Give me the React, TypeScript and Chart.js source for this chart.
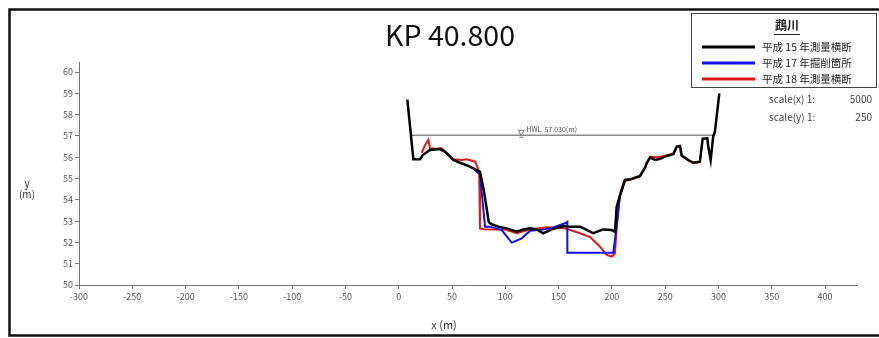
import React, { useEffect, useRef } from "react";
import { Chart, registerables } from "chart.js";

Chart.register(...registerables);

const chartTitle = "KP 40.800";
const legendTitle = "鵡川";
const seriesLabels = ["平成 15 年測量横断", "平成 17 年掘削箇所", "平成 18 年測量横断"];
const scaleLines = [["scale(x) 1:", "5000"], ["scale(y) 1:", "250"]];

const xTicks = [-300, -250, -200, -150, -100, -50, 0, 50, 100, 150, 200, 250, 300, 350, 400];
const yTicks = [50, 51, 52, 53, 54, 55, 56, 57, 58, 59, 60];

const h15X = [8.1, 13.7, 20, 22.5, 29.4, 38.7, 43.4, 51.2, 57.5, 65.3, 71.6, 76.2, 80, 84.5, 87.2, 93.4, 101.3, 110.7, 116.9, 123.2, 129.5, 135.6, 143.5, 154.4, 160.7, 170, 176, 182.5, 191.9, 199.8, 202.9, 204.5, 207.6, 212.3, 217, 226.4, 231, 232.6, 235.8, 240.5, 245.2, 251.4, 257.7, 260.8, 263.9, 265.5, 271.7, 276.4, 282.6, 285.2, 289.5, 290.5, 292.7, 295.1, 296.7, 300.8];
const h15Y = [58.7, 55.9, 55.9, 56.1, 56.34, 56.38, 56.26, 55.87, 55.74, 55.59, 55.43, 55.32, 54.4, 52.95, 52.85, 52.74, 52.66, 52.5, 52.61, 52.66, 52.61, 52.43, 52.61, 52.77, 52.74, 52.74, 52.6, 52.43, 52.61, 52.58, 52.5, 53.68, 54.2, 54.93, 54.96, 55.12, 55.5, 55.71, 55.98, 55.87, 55.92, 56.06, 56.15, 56.5, 56.53, 56.08, 55.87, 55.74, 55.79, 56.87, 56.89, 56.49, 55.87, 56.98, 57.2, 59.0];

const h17X = [69.9, 74.6, 76.2, 81, 85.6, 96.6, 106, 115.4, 123.2, 135, 145, 156, 158.2, 158.2, 201.3, 204.5, 207.6, 212.3];
const h17Y = [55.48, 55.26, 55.2, 52.74, 52.74, 52.58, 51.99, 52.19, 52.55, 52.6, 52.7, 52.9, 52.97, 51.52, 51.52, 52.74, 54.2, 54.9];

const h18X = [21.6, 24.7, 27.8, 29.4, 35, 40.3, 45, 51.2, 59.1, 63.8, 71.6, 73.7, 75.5, 76.2, 80, 92, 100, 110.7, 123.2, 138.8, 156, 170, 179.5, 187.3, 195.1, 199.8, 202.9, 204.5, 207.6, 212, 217, 226, 231, 234, 236, 243, 251, 257.7, 260.8, 263.9, 265.5, 271.7, 276.4, 282.6];
const h18Y = [56.2, 56.57, 56.81, 56.42, 56.4, 56.42, 56.2, 55.9, 55.87, 55.9, 55.79, 55.56, 55.3, 52.66, 52.62, 52.6, 52.6, 52.43, 52.61, 52.71, 52.66, 52.43, 52.25, 51.88, 51.41, 51.33, 51.49, 52.74, 54.3, 54.9, 54.93, 55.1, 55.5, 55.85, 56.02, 56.0, 56.08, 56.15, 56.45, 56.5, 56.06, 55.85, 55.72, 55.77];

const hwlLevel = 57.03;
const hwlX = [10.6, 295];
const hwlMarkX = 115;
const hwlText = "HWL  57.030(m)";

const colors = ["#000000", "#1010ee", "#e01818"];
const FONT = "'Noto Sans CJK JP', 'Noto Sans', sans-serif";

const pts = (xs: number[], ys: number[]) => xs.map((x, i) => ({ x, y: ys[i] }));

const overlay = {
  id: "overlay",
  beforeDraw(chart: any) {
    const ctx = chart.ctx;
    ctx.save();
    ctx.fillStyle = "#ffffff";
    ctx.fillRect(0, 0, chart.width, chart.height);
    ctx.restore();
  },
  afterDraw(chart: any) {
    const ctx = chart.ctx;
    const xs = chart.scales.x;
    const ys = chart.scales.y;
    ctx.save();
    // outer frame
    ctx.strokeStyle = "#111";
    ctx.lineWidth = 2.5;
    ctx.strokeRect(9.5, 9.5, 900, 326);

    // title
    ctx.fillStyle = "#111";
    ctx.font = `28px ${FONT}`;
    const tw = ctx.measureText(chartTitle).width;
    ctx.save();
    ctx.translate(450, 46);
    ctx.scale(130 / tw, 1);
    ctx.textAlign = "center";
    ctx.textBaseline = "alphabetic";
    ctx.fillText(chartTitle, 0, 0);
    ctx.restore();

    // axis titles
    ctx.fillStyle = "#333";
    ctx.font = `10px ${FONT}`;
    ctx.textAlign = "center";
    ctx.textBaseline = "middle";
    ctx.fillText("y", 27, 183);
    ctx.fillText("(m)", 27, 194);
    ctx.font = `11px ${FONT}`;
    ctx.fillText("x (m)", 444, 325);

    // HWL label
    const hx = xs.getPixelForValue(hwlMarkX);
    const hy = ys.getPixelForValue(hwlLevel);
    ctx.strokeStyle = "#777";
    ctx.lineWidth = 1;
    ctx.beginPath();
    ctx.moveTo(hx - 3, hy - 5);
    ctx.lineTo(hx + 3, hy - 5);
    ctx.lineTo(hx, hy);
    ctx.closePath();
    ctx.stroke();
    ctx.beginPath();
    ctx.moveTo(hx - 2, hy + 2);
    ctx.lineTo(hx + 2, hy + 2);
    ctx.stroke();
    ctx.fillStyle = "#555";
    ctx.font = `7px ${FONT}`;
    ctx.textAlign = "left";
    ctx.textBaseline = "alphabetic";
    ctx.fillText(hwlText, hx + 5, hy - 3);

    // legend box
    ctx.fillStyle = "#fff";
    ctx.fillRect(691, 13, 186, 74);
    ctx.strokeStyle = "#444";
    ctx.lineWidth = 1;
    ctx.strokeRect(691.5, 13.5, 185, 74);
    ctx.fillStyle = "#222";
    ctx.font = `bold 12px ${FONT}`;
    ctx.textAlign = "center";
    ctx.fillText(legendTitle, 787, 30);
    const lw = ctx.measureText(legendTitle).width;
    ctx.strokeStyle = "#222";
    ctx.beginPath();
    ctx.moveTo(787 - lw / 2 - 1, 34.5);
    ctx.lineTo(787 + lw / 2 + 1, 34.5);
    ctx.stroke();
    ctx.font = `10.5px ${FONT}`;
    ctx.textAlign = "left";
    ctx.textBaseline = "middle";
    seriesLabels.forEach((lab, i) => {
      const y = 47 + i * 16;
      ctx.strokeStyle = colors[i];
      ctx.lineWidth = 3;
      ctx.beginPath();
      ctx.moveTo(702, y);
      ctx.lineTo(755, y);
      ctx.stroke();
      ctx.fillStyle = "#222";
      ctx.fillText(lab, 762, y);
    });

    // scale text
    ctx.fillStyle = "#444";
    ctx.font = `10px ${FONT}`;
    scaleLines.forEach((s, i) => {
      const y = 99 + i * 18;
      ctx.textAlign = "left";
      ctx.fillText(s[0], 769, y);
      ctx.textAlign = "right";
      ctx.fillText(s[1], 872, y);
    });
    ctx.restore();
  },
};

export default function App() {
  const ref = useRef<HTMLCanvasElement>(null);
  useEffect(() => {
    if (!ref.current) return;
    const chart = new Chart(ref.current, {
      type: "scatter",
      data: {
        datasets: [
          { label: seriesLabels[0], data: pts(h15X, h15Y), borderColor: colors[0], borderWidth: 2.5, showLine: true, pointRadius: 0 },
          { label: seriesLabels[1], data: pts(h17X, h17Y), borderColor: colors[1], borderWidth: 2, showLine: true, pointRadius: 0 },
          { label: seriesLabels[2], data: pts(h18X, h18Y), borderColor: colors[2], borderWidth: 2, showLine: true, pointRadius: 0 },
          { label: "HWL", data: hwlX.map((x) => ({ x, y: hwlLevel })), borderColor: "#8a8a8a", borderWidth: 1.5, showLine: true, pointRadius: 0 },
        ],
      },
      options: {
        responsive: false,
        maintainAspectRatio: false,
        animation: false,
        layout: { padding: { left: 0, top: 62, right: 22, bottom: 0 } },
        plugins: { legend: { display: false }, tooltip: { enabled: false }, title: { display: false } },
        scales: {
          x: {
            type: "linear",
            min: -300,
            max: 430,
            afterFit: (s: any) => { s.height = 53; },
            afterBuildTicks: (s: any) => { s.ticks = xTicks.map((v) => ({ value: v })); },
            grid: { display: true, drawOnChartArea: false, drawTicks: true, tickLength: 4, color: "#777" },
            border: { display: true, color: "#777", width: 1 },
            ticks: { color: "#555", font: { size: 9, family: FONT }, padding: 2, maxRotation: 0, autoSkip: false },
          },
          y: {
            type: "linear",
            min: 50,
            max: 60.47,
            afterFit: (s: any) => { s.width = 79; },
            afterBuildTicks: (s: any) => { s.ticks = yTicks.map((v) => ({ value: v })); },
            grid: { display: true, drawOnChartArea: false, drawTicks: true, tickLength: 4, color: "#777" },
            border: { display: true, color: "#777", width: 1 },
            ticks: { color: "#555", font: { size: 9, family: FONT }, padding: 2, autoSkip: false },
          },
        },
      },
      plugins: [overlay],
    });
    return () => chart.destroy();
  }, []);
  return (
    <div style={{ position: "fixed", left: 0, top: 0, width: 879, height: 338, background: "#fff" }}>
      <canvas ref={ref} width={879} height={338} style={{ display: "block", width: 879, height: 338 }} />
    </div>
  );
}
